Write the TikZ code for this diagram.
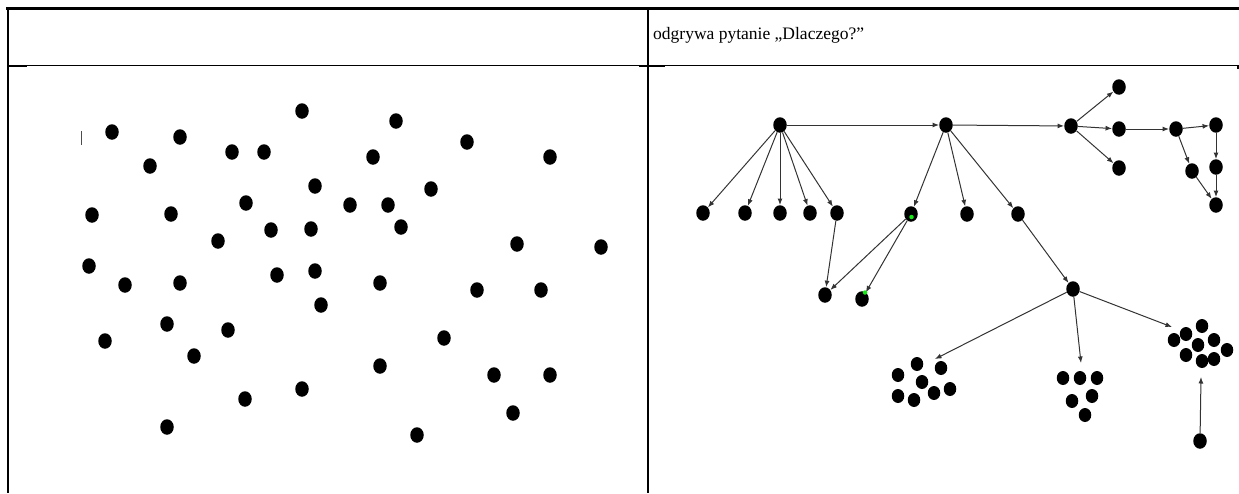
\documentclass[tikz,border=0pt]{standalone}
\usepackage{fontspec}
\setmainfont{Liberation Serif}
\usetikzlibrary{shapes.geometric,arrows.meta}
\definecolor{hit}{RGB}{20,235,20}

\begin{document}
\begin{tikzpicture}[x=1pt, y=-1pt,
  dot/.style={ellipse, fill=black, inner sep=0pt, minimum width=13.5pt, minimum height=15.5pt},
  grape/.style={ellipse, fill=black, inner sep=0pt, minimum width=12.5pt, minimum height=14pt},
  link/.style={draw=black!80, line width=1pt, -{Latex[length=6.5pt,width=5pt]}},
  rule/.style={line width=2.4pt}]
  \useasboundingbox (0,0) rectangle (1239,493);

  % table frame
  \draw[rule] (6,8.5) -- (1239,8.5);
  \draw[line width=2pt] (7.5,8.5) -- (7.5,493);
  \draw[rule] (648,8.5) -- (648,493);
  \draw[line width=1.3pt] (7.5,65.5) -- (1238,65.5) -- (1238,68.5);
  \draw[line width=2.4pt] (7.5,65.8) -- (27,65.8);
  \draw[line width=2.4pt] (639,65.8) -- (665,65.8);
  \node[anchor=base west, inner sep=0pt, font=\fontsize{17.5}{20}\selectfont] (title) at (653,39) {odgrywa pytanie „Dlaczego?”};

  % left cell: loose points
  \draw[black!70, line width=0.8pt] (81,131) -- (81,145);
  \foreach \x/\y [count=\i] in {112/132, 180/137, 150/166, 232/152, 264/152, 302/111, 396/121, 373/157,
      467/142, 550/157, 92/215, 171/214, 246/203, 315/186, 350/205, 388/205, 431/189, 218/241,
      271/230, 311/229, 401/227, 517/244, 601/247, 89/266, 125/285, 180/283, 277/275, 315/271,
      321/305, 380/283, 477/290, 541/290, 167/324, 228/330, 105/341, 194/356, 444/338, 380/366,
      494/375, 550/375, 245/399, 302/389, 513/413, 167/427, 417/435}
    \node[dot] (l\i) at (\x,\y) {};

  % right cell: graph
  \node[dot] (a) at (780,125) {};
  \node[dot] (b) at (946,125) {};
  \node[dot] (c) at (1071,126) {};
  \node[dot] (cup) at (1119,87) {};
  \node[dot] (cmid) at (1119,129) {};
  \node[dot] (cdown) at (1119,168) {};
  \node[dot] (d) at (1176,129) {};
  \node[dot] (e) at (1216,125) {};
  \node[dot] (f) at (1192,171) {};
  \node[dot] (g) at (1216,167) {};
  \node[dot] (h) at (1216,205) {};
  \foreach \x [count=\i] in {703,745,780,810,837}
    \node[dot] (a\i) at (\x,213) {};
  \node[dot] (b1) at (911,214) {};
  \node[dot] (b2) at (967,214) {};
  \node[dot] (b3) at (1018,214) {};
  \node[dot] (p1) at (825,295) {};
  \node[dot] (p2) at (862,299) {};
  \node[dot] (hub) at (1073,289) {};
  \node[dot] (lone) at (1200,441) {};

  % clusters
  \foreach \x/\y [count=\i] in {917/364, 941/368, 898/375, 922/382, 950/389, 898/396, 914/400, 934/393}
    \node[grape] (k\i) at (\x,\y) {};
  \foreach \x/\y [count=\i] in {1063/378, 1080/378, 1097/378, 1072/401, 1092/396, 1085/415}
    \node[grape] (m\i) at (\x,\y) {};
  \foreach \x/\y [count=\i] in {1202/326, 1186/334, 1174/340, 1214/340, 1198/345, 1227/350, 1186/355, 1202/361, 1214/359}
    \node[grape] (n\i) at (\x,\y) {};
  \coordinate (kin) at (935,359);
  \coordinate (min) at (1081,363);
  \coordinate (nin) at (1172,327);
  \coordinate (nlow) at (1201,377);

  \draw[link] (a) -- (b);
  \draw[link] (b) -- (c);
  \foreach \i in {1,...,5}
    \draw[link] (a) -- (a\i);
  \draw[link] (a5) -- (p1);
  \foreach \i in {1,2,3}
    \draw[link] (b) -- (b\i);
  \draw[link] (b1) -- (p1);
  \draw[link] (b1) -- (p2);
  \draw[link] (b3) -- (hub);
  \draw[link] (c) -- (cup);
  \draw[link] (c) -- (cmid);
  \draw[link] (c) -- (cdown);
  \draw[link] (cmid) -- (d);
  \draw[link] (d) -- (e);
  \draw[link] (d) -- (f);
  \draw[link] (e) -- (g);
  \draw[link] (f) -- (h);
  \draw[link] (g) -- (h);
  \draw[link] (hub) -- (kin);
  \draw[link] (hub) -- (min);
  \draw[link] (hub) -- (nin);
  \draw[link] (lone) -- (nlow);

  % green marks
  \node[circle, fill=hit, inner sep=0pt, minimum size=4.5pt] (g1) at (911.5,217) {};
  \node[circle, fill=hit, inner sep=0pt, minimum size=4.5pt] (g2) at (865,292.5) {};
\end{tikzpicture}
\end{document}
